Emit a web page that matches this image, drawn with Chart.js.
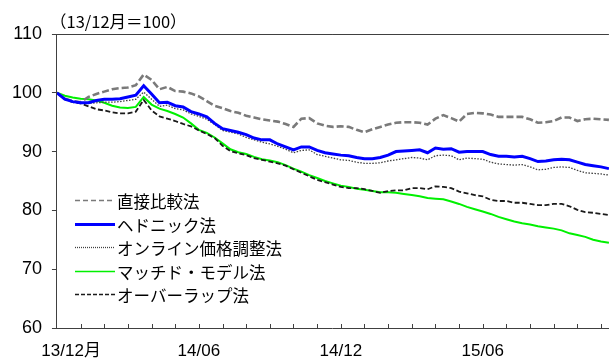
<!DOCTYPE html>
<html><head><meta charset="utf-8">
<script src="https://cdn.jsdelivr.net/npm/chart.js@4/dist/chart.umd.min.js"></script>
<style>html,body{margin:0;padding:0;background:#fff}#wrap{width:614px;height:360px}</style>
</head><body><div id="wrap"><canvas id="c" width="614" height="360"></canvas></div>
<script>
// x index: 3 points per month starting 13/12
const seriesNames = ['直接比較法','ヘドニック法','オンライン価格調整法','マッチド・モデル法','オーバーラップ法'];
const xTickLabels = ['13/12月','14/06','14/12','15/06'];
const yTicks = [60,70,80,90,100,110];
const direct = [100,99.0,98.6,98.4,99.3,99.8,100.2,100.6,100.8,100.9,
101.3,103.1,102.2,100.6,101.0,100.3,100.2,99.9,99.4,98.6,
97.8,97.4,96.9,96.6,96.1,95.8,95.5,95.3,95.1,94.7,
94.2,95.6,95.7,94.8,94.4,94.2,94.3,94.2,93.7,93.3,
93.8,94.2,94.6,94.9,95.0,95.0,94.9,94.6,95.6,96.2,
95.7,95.1,96.4,96.6,96.5,96.3,95.9,95.9,95.9,95.9,
95.5,94.9,95.0,95.2,95.8,95.8,95.2,95.5,95.6,95.5,
95.4];
const hedonic = [100,98.9,98.5,98.3,98.3,98.7,98.9,98.9,99.0,99.3,
99.6,101.2,99.8,98.3,98.4,97.8,97.6,96.8,96.4,95.9,
94.8,93.9,93.6,93.3,92.9,92.3,92.0,92.0,91.3,90.8,
90.3,90.8,90.8,90.2,89.8,89.6,89.4,89.3,89.0,88.8,
88.8,89.0,89.4,90.0,90.1,90.2,90.3,89.8,90.6,90.4,
90.5,89.9,90.0,90.0,90.0,89.5,89.2,89.2,89.1,89.2,
88.8,88.3,88.4,88.6,88.7,88.6,88.2,87.8,87.6,87.4,
87.1];
const online = [100,98.9,98.5,98.3,98.2,98.3,98.4,98.4,98.5,98.7,
98.9,100.1,98.9,97.7,97.9,97.3,97.1,96.4,96.0,95.5,
94.6,93.6,93.3,93.0,92.4,92.0,91.6,91.3,90.9,90.4,
89.8,90.2,90.3,89.5,89.2,88.9,88.6,88.5,88.2,88.0,
88.0,88.1,88.4,88.6,88.8,89.0,88.9,88.6,89.3,89.4,
89.3,88.6,88.9,88.8,88.7,88.2,87.9,87.8,87.7,87.8,
87.4,86.9,87.0,87.3,87.4,87.3,86.8,86.4,86.3,86.2,
86.0];
const matched = [100,99.5,99.2,99.0,98.9,98.7,98.3,97.8,97.5,97.4,
97.6,99.3,98.0,97.3,96.9,96.4,95.8,94.8,93.7,93.2,
92.4,91.4,90.4,89.9,89.6,89.1,88.7,88.5,88.2,87.7,
87.1,86.6,86.0,85.5,85.0,84.6,84.2,84.0,83.7,83.5,
83.3,83.1,83.1,83.0,82.8,82.6,82.4,82.1,82.0,81.9,
81.5,81.1,80.6,80.2,79.8,79.4,78.9,78.5,78.1,77.8,
77.6,77.3,77.1,76.9,76.6,76.1,75.8,75.5,75.0,74.7,
74.5];
const overlap = [100,98.9,98.4,98.2,97.7,97.2,97.0,96.7,96.5,96.5,
96.8,98.8,97.0,96.0,95.6,95.2,94.7,94.3,93.6,93.0,
92.3,91.0,90.1,89.7,89.4,88.9,88.6,88.3,88.0,87.6,
87.0,86.4,85.8,85.2,84.8,84.4,84.0,83.8,83.8,83.6,
83.3,83.0,83.3,83.4,83.4,83.8,83.8,83.6,84.1,84.0,
83.8,83.2,82.9,82.6,82.4,81.8,81.6,81.6,81.3,81.3,
81.1,80.9,80.9,81.1,81.1,80.7,80.1,79.7,79.6,79.4,
79.2];

const PER_MONTH = 3;
const toXY = arr => arr.map((v,i)=>({x:i/PER_MONTH, y:v}));
const styles = [
  {color:'#7a7a7a', width:2.6, dash:[7,3]},
  {color:'#0000ff', width:3, dash:[]},
  {color:'#404040', width:1.3, dash:[1.5,1.5]},
  {color:'#00f000', width:2, dash:[]},
  {color:'#1a1a1a', width:1.8, dash:[5,2.5]}
];
const allSeries = [direct, hedonic, online, matched, overlap];
const drawOrder = [1,2,0,4,3];
const datasets = allSeries.map((arr,k)=>({
  label: seriesNames[k],
  data: toXY(arr),
  borderColor: styles[k].color,
  borderWidth: styles[k].width,
  borderDash: styles[k].dash,
  pointRadius: 0,
  tension: 0,
  fill: false,
  order: drawOrder.indexOf(k)
}));

const AXIS = '#404040';
const decor = {
  id:'decor',
  afterDraw(chart){
    const ctx = chart.ctx, ca = chart.chartArea, xs = chart.scales.x;
    ctx.save();
    ctx.strokeStyle = AXIS; ctx.lineWidth = 1;
    xs.ticks.forEach(t=>{
      if (t.value === 0) return;
      const px = Math.round(xs.getPixelForValue(t.value)) + 0.5;
      ctx.beginPath(); ctx.moveTo(px, ca.bottom); ctx.lineTo(px, ca.bottom-4); ctx.stroke();
    });
    ctx.fillStyle = '#000';
    ctx.font = '16.5px "Noto Sans CJK JP"';
    ctx.textBaseline = 'middle'; ctx.textAlign = 'left';
    ctx.fillText('（13/12月＝100）', 50, 22);
    ctx.font = '16.5px "Noto Sans CJK JP"';
    const lx0 = 75, lx1 = 115, tx = 117, y0 = 200, dy = 23.5;
    seriesNames.forEach((name,k)=>{
      const y = Math.round(y0 + k*dy) + 0.5;
      const st = styles[k];
      ctx.save();
      ctx.strokeStyle = st.color;
      ctx.lineWidth = Math.min(st.width, k===1?3:1.5);
      ctx.setLineDash(k===0?[5,3]:k===4?[4,2]:k===2?[1,1]:[]);
      ctx.beginPath(); ctx.moveTo(lx0, y); ctx.lineTo(lx1, y); ctx.stroke();
      ctx.restore();
      ctx.fillStyle = '#000';
      ctx.fillText(name, tx, y+1);
    });
    ctx.restore();
  }
};

new Chart(document.getElementById('c'), {
  type:'line',
  data:{datasets},
  options:{
    responsive:false, animation:false, devicePixelRatio:1,
    layout:{padding:{top:34,right:0,left:0,bottom:0}},
    plugins:{legend:{display:false}, tooltip:{enabled:false}, title:{display:false}},
    scales:{
      x:{
        type:'linear', min:0, max:70/PER_MONTH,
        afterFit(s){ s.height = 32; },
        ticks:{
          stepSize:1, includeBounds:false, autoSkip:false, maxRotation:0,
          color:'#000', padding:13,
          font:{family:'"Liberation Sans", "Noto Sans CJK JP"', size:17},
          callback(v){
            if (v % 6 !== 0) return '';
            const lab = xTickLabels[v/6];
            if (lab === undefined) return '';
            return v === 0 ? '      ' + lab : lab;
          }
        },
        grid:{display:true, drawOnChartArea:false, drawTicks:false},
        border:{display:true, color:AXIS, width:1}
      },
      y:{
        type:'linear', min:60, max:110,
        afterFit(s){ s.width = 55; },
        afterBuildTicks(s){ s.ticks = yTicks.map(v=>({value:v})); },
        ticks:{color:'#000', padding:10, font:{family:'"Liberation Sans"', size:18}},
        grid:{
          drawOnChartArea:true, drawTicks:true, tickLength:5, tickColor:AXIS, lineWidth:1,
          color(c){ return c.tick && c.tick.value === 110 ? AXIS : 'rgba(0,0,0,0)'; }
        },
        border:{display:true, color:AXIS, width:1}
      }
    }
  },
  plugins:[decor]
});
</script>
</body></html>
